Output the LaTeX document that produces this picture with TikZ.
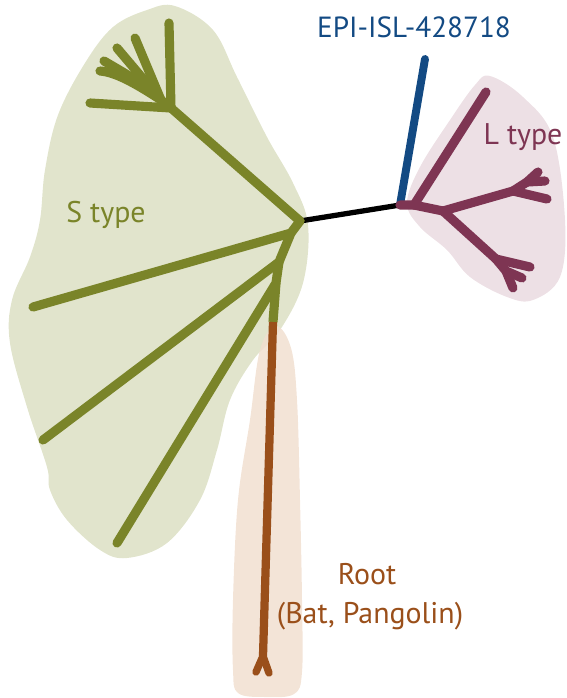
\documentclass[tikz,border=0pt]{standalone}
\usepackage{fontspec}
\setmainfont{PT Sans}
\definecolor{sgreen}{HTML}{7A8429}
\definecolor{sblob}{HTML}{E1E4CC}
\definecolor{lred}{HTML}{7E3553}
\definecolor{lblob}{HTML}{EDE0E5}
\definecolor{eblue}{HTML}{134A83}
\definecolor{rbrown}{HTML}{9A4F1A}
\definecolor{rblob}{HTML}{F1DFD0}
\begin{document}
\begin{tikzpicture}[x=0.02cm,y=-0.02cm,
  sline/.style={draw=sgreen,line width=5.2pt,line cap=round,line join=round},
  lline/.style={draw=lred,line width=5.2pt,line cap=round,line join=round},
  lab/.style={anchor=base,font=\fontsize{17}{20}\selectfont,inner sep=0pt}]
\useasboundingbox (0,0) rectangle (566,698);
% blobs
\fill[sblob] plot[smooth cycle,tension=0.6] coordinates {(175,6) (213,30) (237,77) (267,137) (293,183) (308,225) (303,283) (280,330) (253,360) (230,400) (217,450) (200,500) (167,543) (127,558) (100,550) (67,520) (50,490) (47,467) (27,407) (10,343) (12,300) (30,257) (40,220) (45,170) (58,115) (85,63) (113,27) (147,10)};
\fill[rblob,opacity=0.85] plot[smooth cycle,tension=0.6] coordinates {(276,326) (291,348) (297,400) (300,500) (302,600) (302,672) (294,694) (265,697) (238,693) (233,670) (233,600) (238,500) (250,420) (260,350)};
\fill[lblob] plot[smooth cycle,tension=0.6] coordinates {(490,76) (523,97) (553,137) (565,220) (560,277) (533,300) (507,297) (470,277) (447,250) (420,227) (407,203) (420,167) (450,120) (475,85)};
% nodes
\coordinate (s0) at (300,221);
\coordinate (l0) at (400,205);
\coordinate (e1) at (425,59);
% black and blue
\draw[line width=3pt] (s0) -- (l0);
\draw[draw=eblue,line width=4.5pt,line cap=round] (l0) -- (e1);
% S type
\coordinate (st) at (171,108);
\coordinate (sf) at (161,100);
\draw[sline] (s0) -- (st);
\draw[sline] (st) -- (169,23);
\draw[sline] (st) -- (90,103);
\draw[sline] (st) -- (sf);
\draw[sline] (sf) -- (135,38);
\draw[sline] (sf) -- (117,48);
\draw[sline] (sf) .. controls (140,82) .. (104,61);
\draw[sline] (sf) .. controls (135,83) and (115,72) .. (100,71);
\coordinate (s1) at (291,233);
\coordinate (s2) at (279,262);
\coordinate (s3) at (276,283);
\coordinate (rt) at (273,322);
\draw[sline] (s0) -- (s1) -- (33,307);
\draw[sline] (s1) -- (s2) -- (43,440);
\draw[sline] (s2) -- (s3) -- (117,543);
\draw[sline,line cap=butt] (s3) -- (rt);
% root
\coordinate (rb) at (263,656);
\draw[draw=rbrown,line width=4.7pt,line cap=butt] (rt) -- (rb);
\draw[draw=rbrown,line width=4.2pt,line cap=round] (rb) -- (256,672);
\draw[draw=rbrown,line width=4.2pt,line cap=round] (rb) -- (269,673);
% L type
\coordinate (l1) at (414,205);
\coordinate (l2) at (443,211);
\coordinate (l3) at (513,191);
\coordinate (l4) at (527,182);
\coordinate (l5) at (496,259);
\coordinate (l6) at (506,271);
\draw[lline] (l0) -- (l1) -- (486,92);
\draw[lline] (l1) -- (l2);
\draw[lline] (l2) -- (l3) -- (547,199);
\draw[lline] (l3) -- (l4) -- (538,172);
\draw[lline] (l4) -- (545,181);
\draw[lline] (l2) -- (l5) -- (530,267);
\draw[lline] (l5) -- (l6) -- (522,278);
\draw[lline] (l6) -- (513,288);
% labels
\node[lab,text=eblue,font=\fontsize{16.6}{20}\selectfont] (te) at (414,37) {EPI-ISL-428718};
\node[lab,text=lred] (tl) at (523,144) {L type};
\node[lab,text=sgreen] (ts) at (106,222) {S type};
\node[lab,text=rbrown] (tr) at (367,584) {Root};
\node[lab,text=rbrown] (tb) at (370,623) {(Bat, Pangolin)};
\end{tikzpicture}
\end{document}
